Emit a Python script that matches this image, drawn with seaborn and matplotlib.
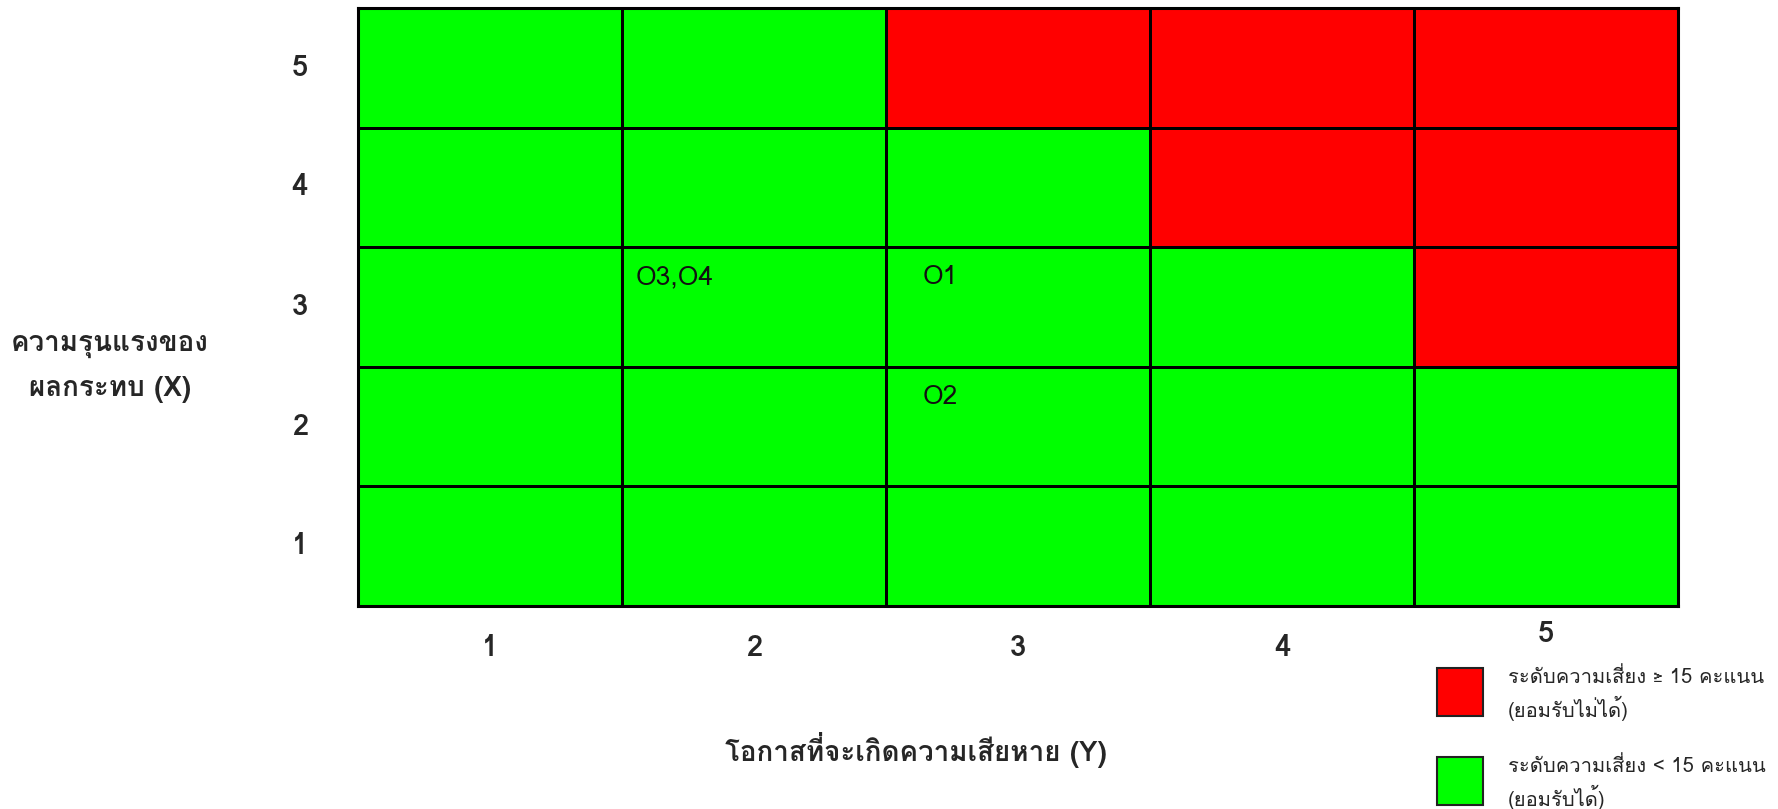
import matplotlib
matplotlib.use("Agg")
import matplotlib.pyplot as plt
from matplotlib import font_manager
from matplotlib.ft2font import FT2Font
from matplotlib.colors import ListedColormap
from matplotlib.patches import Rectangle
from matplotlib.transforms import ScaledTranslation
import pandas as pd
import seaborn as sns

# Risk matrix: rows = impact severity (X), columns = likelihood (Y)
severity_levels = [5, 4, 3, 2, 1]
likelihood_levels = [1, 2, 3, 4, 5]
# 1 = unacceptable (score >= 15), 0 = acceptable
zone_row_5 = [0, 0, 1, 1, 1]
zone_row_4 = [0, 0, 0, 1, 1]
zone_row_3 = [0, 0, 0, 0, 1]
zone_row_2 = [0, 0, 0, 0, 0]
zone_row_1 = [0, 0, 0, 0, 0]

# Opportunities placed on the matrix: (label, severity, likelihood)
item_labels = ["O3,O4", "O1", "O2"]
item_severity = [3, 3, 2]
item_likelihood = [2, 3, 3]

x_title = "โอกาสที่จะเกิดความเสียหาย (Y)"
y_title = "ความรุนแรงของ\nผลกระทบ (X)"
legend_texts = ["ระดับความเสี่ยง ≥ 15 คะแนน\n(ยอมรับไม่ได้)",
                "ระดับความเสี่ยง < 15 คะแนน\n(ยอมรับได้)"]

GREEN = "#00ff00"
RED = "#ff0000"

sns.set_theme(style="white")


def thai_fonts():
    found = []
    for f in font_manager.fontManager.ttflist:
        try:
            cmap = FT2Font(f.fname).get_charmap()
        except Exception:
            continue
        if 0x0E01 in cmap and f.name not in found:
            found.append(f.name)
    return found


families = thai_fonts() + ["DejaVu Sans"]
plt.rcParams["font.family"] = families

matrix = pd.DataFrame(
    [zone_row_5, zone_row_4, zone_row_3, zone_row_2, zone_row_1],
    index=severity_levels, columns=likelihood_levels,
)

fig = plt.figure(figsize=(17.78, 8.09), dpi=100)
ax = fig.add_axes([358 / 1778, 1 - 606 / 809, 1320 / 1778, 598 / 809])

sns.heatmap(matrix, cmap=ListedColormap([GREEN, RED]), vmin=0, vmax=1,
            cbar=False, linewidths=2, linecolor="black", ax=ax)

for side in ax.spines.values():
    side.set_visible(True)
    side.set_linewidth(2.2)
    side.set_color("black")

ax.tick_params(axis="both", length=0, labelsize=21)
ax.tick_params(axis="x", pad=20)
ax.tick_params(axis="y", pad=36)
ax.set_xlabel("")
ax.set_ylabel("")
plt.setp(ax.get_yticklabels(), rotation=0)
plt.setp(ax.get_xticklabels() + ax.get_yticklabels(), fontweight="semibold")
last = ax.get_xticklabels()[-1]
last.set_transform(last.get_transform() + ScaledTranslation(0, 14 / 100, fig.dpi_scale_trans))

# Item labels in the upper-left part of their cells
x_offsets = {"O3,O4": 0.05}
for lab, sev, lik in zip(item_labels, item_severity, item_likelihood):
    col = likelihood_levels.index(lik)
    row = severity_levels.index(sev)
    ax.text(col + x_offsets.get(lab, 0.14), row + 0.25, lab,
            fontsize=19, va="center", ha="left", color="#111111")

fig.text(916 / 1778, 1 - 750 / 809, x_title, ha="center", va="center",
         fontsize=20, fontweight="bold")
fig.text(110 / 1778, 1 - 368 / 809, y_title, ha="center", va="center",
         fontsize=20, fontweight="bold", linespacing=1.9)

# Legend swatches with their descriptions
for k, (color, text) in enumerate(zip([RED, GREEN], legend_texts)):
    top = 668 + k * 89
    fig.patches.append(Rectangle((1437 / 1778, 1 - (top + 48) / 809), 46 / 1778, 48 / 809,
                                 transform=fig.transFigure, facecolor=color,
                                 edgecolor="#222222", linewidth=1.5))
    fig.text(1508 / 1778, 1 - (top + 26) / 809, text, ha="left", va="center",
             fontsize=14.5, linespacing=1.4)

fig.savefig("out.png", dpi=100)
